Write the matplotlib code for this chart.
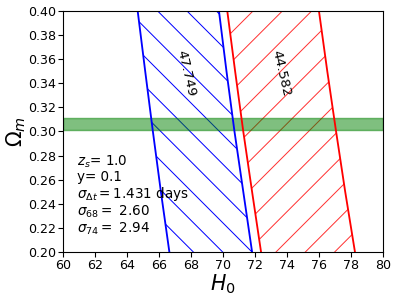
import matplotlib
matplotlib.use("Agg")
import matplotlib.pyplot as plt

# values
omega = [0.20, 0.25, 0.30, 0.35, 0.40]
blue_left = [66.63, 66.10, 65.60, 65.12, 64.65]
blue_right = [71.80, 71.25, 70.70, 70.20, 69.73]
red_left = [72.36, 71.80, 71.25, 70.74, 70.25]
red_right = [78.23, 77.62, 77.05, 76.50, 75.98]
band = (0.301, 0.311)

blue_label = "47.749"
red_label = "44.582"
info_lines = [r"$z_s$= 1.0", "y= 0.1", r"$\sigma_{\Delta t}=$1.431 days",
              r"$\sigma_{68}=$ 2.60", r"$\sigma_{74}=$ 2.94"]

DPI = 88
plt.rcParams["hatch.linewidth"] = 0.82

fig = plt.figure(figsize=(398 / DPI, 301 / DPI), dpi=DPI)
ax = fig.add_axes([0.159, 0.163, 0.804, 0.8005])

ax.fill_betweenx(omega, blue_left, blue_right, facecolor="none",
                 edgecolor="blue", hatch="\\", linewidth=0)
ax.fill_betweenx(omega, red_left, red_right, facecolor="none",
                 edgecolor="red", hatch="/", linewidth=0, alpha=0.8)
ax.plot(blue_left, omega, color="blue", lw=1.5)
ax.plot(blue_right, omega, color="blue", lw=1.5)
ax.plot(red_left, omega, color="red", lw=1.5)
ax.plot(red_right, omega, color="red", lw=1.5)

ax.axhspan(band[0], band[1], facecolor="green", edgecolor="green",
           alpha=0.5, lw=1.2)

ax.text(67.67, 0.3486, blue_label, rotation=-77, ha="center", va="center",
        fontsize=11)
ax.text(73.6, 0.3486, red_label, rotation=-77, ha="center", va="center",
        fontsize=11)

ax.text(60.85, 0.2125, "\n".join(info_lines), ha="left", va="bottom",
        fontsize=11.1, linespacing=1.05)

ax.set_xlim(60, 80)
ax.set_ylim(0.20, 0.40)
ax.set_xticks(range(60, 81, 2))
ax.set_yticks([0.20, 0.22, 0.24, 0.26, 0.28, 0.30, 0.32, 0.34, 0.36, 0.38, 0.40])
ax.tick_params(labelsize=10.3, length=3.75, width=0.9, pad=2.2)
for s in ax.spines.values():
    s.set_linewidth(0.9)

ax.set_xlabel(r"$H_0$", fontsize=16.8, labelpad=0)
ax.set_ylabel(r"$\Omega_m$", fontsize=16.8, labelpad=0)

fig.savefig("out.png", dpi=DPI)
